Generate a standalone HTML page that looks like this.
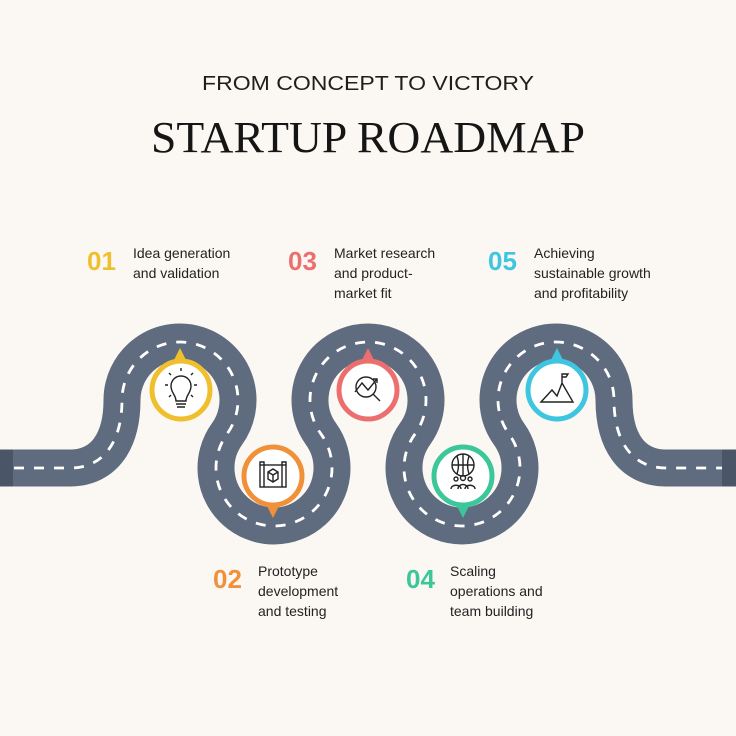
<!DOCTYPE html>
<html><head><meta charset="utf-8"><style>
html,body{margin:0;padding:0;background:#fbf8f3;}
svg{display:block}
.t{font-family:"Liberation Sans",sans-serif;font-size:14px;fill:#222;}
.n{font-family:"Liberation Sans",sans-serif;font-size:26px;font-weight:bold;}
</style></head><body>
<svg width="736" height="736" viewBox="0 0 736 736" xmlns="http://www.w3.org/2000/svg">
<rect width="736" height="736" fill="#fbf8f3"/>
<text x="368" y="90" text-anchor="middle" font-family="Liberation Sans, sans-serif" font-size="20" fill="#1e1e1e" textLength="332" lengthAdjust="spacingAndGlyphs">FROM CONCEPT TO VICTORY</text>
<text x="368" y="152" text-anchor="middle" font-family="Liberation Serif, serif" font-size="44" fill="#151515" textLength="434" lengthAdjust="spacingAndGlyphs">STARTUP ROADMAP</text>

<path d="M0,468 L70,468 C105,468 122,440 122,400 A58 58 0 1 1 227,434 A58 58 0 1 0 321,434 A58 58 0 1 1 415,434 A58 58 0 1 0 509,434 A58 58 0 1 1 614,400 C614,440 631,468 666,468 L736,468" fill="none" stroke="#5f6c80" stroke-width="37"/>
<rect x="0" y="449.5" width="13" height="37" fill="#4a5568"/>
<rect x="722" y="449.5" width="14" height="37" fill="#4a5568"/>
<path d="M14,468 L70,468 C105,468 122,440 122,400 A58 58 0 1 1 227,434 A58 58 0 1 0 321,434 A58 58 0 1 1 415,434 A58 58 0 1 0 509,434 A58 58 0 1 1 614,400 C614,440 631,468 666,468 L722,468" fill="none" stroke="#fff" stroke-width="2.8" stroke-dasharray="10 10"/>

<g stroke-width="5" fill="#fff">
<path d="M174,360 L180,348 L186,360Z" fill="#f0bf2e" stroke="none"/>
<circle cx="181" cy="390" r="29" stroke="#f0bf2e"/>
<path d="M267,506 L273,518 L279,506Z" fill="#f0913a" stroke="none"/>
<circle cx="273" cy="476" r="29" stroke="#f0913a"/>
<path d="M362,360 L368,348 L374,360Z" fill="#ec6f6f" stroke="none"/>
<circle cx="368" cy="390" r="29" stroke="#ec6f6f"/>
<path d="M457,506 L463,518 L469,506Z" fill="#3cc79a" stroke="none"/>
<circle cx="463" cy="476" r="29" stroke="#3cc79a"/>
<path d="M551,360 L557,348 L563,360Z" fill="#3ec6e0" stroke="none"/>
<circle cx="557" cy="390" r="29" stroke="#3ec6e0"/>
</g>

<g fill="none" stroke="#222" stroke-width="1.4">
<path d="M176,401 C176,395 171,393 171,386 A10 10 0 1 1 191,386 C191,393 186,395 186,401Z M176,404 H186 M177,407 H185"/>
<path d="M168,385 H165 M197,385 H194 M181,371 V368 M171,375 L169,373 M191,375 L193,373 M171,395 L169,397 M191,395 L193,397"/>
<rect x="260" y="465" width="26" height="22"/>
<path d="M260,465 V462 H264 V487 M286,465 V462 H282 V487 M268,472 L273,469 L278,472 V479 L273,482 L268,479Z M268,472 L273,475 L278,472 M273,475 V482"/>
<circle cx="366" cy="387" r="10"/>
<path d="M373,394 L380,401 M355,392 L362,383 L368,390 L377,379 M373,379 H377 V383"/>
<circle cx="463" cy="465" r="11"/>
<path d="M452,465 H474 M463,454 V476 M457,456 C459,462 459,468 457,474 M469,456 C467,462 467,468 469,474"/>
<circle cx="456" cy="479" r="2"/><circle cx="463" cy="478" r="2.5"/><circle cx="470" cy="479" r="2"/>
<path d="M451,489 C451,484 461,484 461,489 M458,489 C458,483 468,483 468,489 M465,489 C465,484 475,484 475,489"/>
<path d="M541,402 L552,390 L557,396 L562,383 L573,402Z M562,383 V374 H568 L566,377 H562"/>
</g>

<text class="n" x="87" y="270" fill="#f0bf2e">01</text>
<text class="t" x="133" y="258">Idea generation</text>
<text class="t" x="133" y="278">and validation</text>
<text class="n" x="288" y="270" fill="#ec6f6f">03</text>
<text class="t" x="334" y="258">Market research</text>
<text class="t" x="334" y="278">and product-</text>
<text class="t" x="334" y="298">market fit</text>
<text class="n" x="488" y="270" fill="#3ec6e0">05</text>
<text class="t" x="534" y="258">Achieving</text>
<text class="t" x="534" y="278">sustainable growth</text>
<text class="t" x="534" y="298">and profitability</text>
<text class="n" x="213" y="588" fill="#f0913a">02</text>
<text class="t" x="258" y="576">Prototype</text>
<text class="t" x="258" y="596">development</text>
<text class="t" x="258" y="616">and testing</text>
<text class="n" x="406" y="588" fill="#3cc79a">04</text>
<text class="t" x="450" y="576">Scaling</text>
<text class="t" x="450" y="596">operations and</text>
<text class="t" x="450" y="616">team building</text>
</svg>
</body></html>
